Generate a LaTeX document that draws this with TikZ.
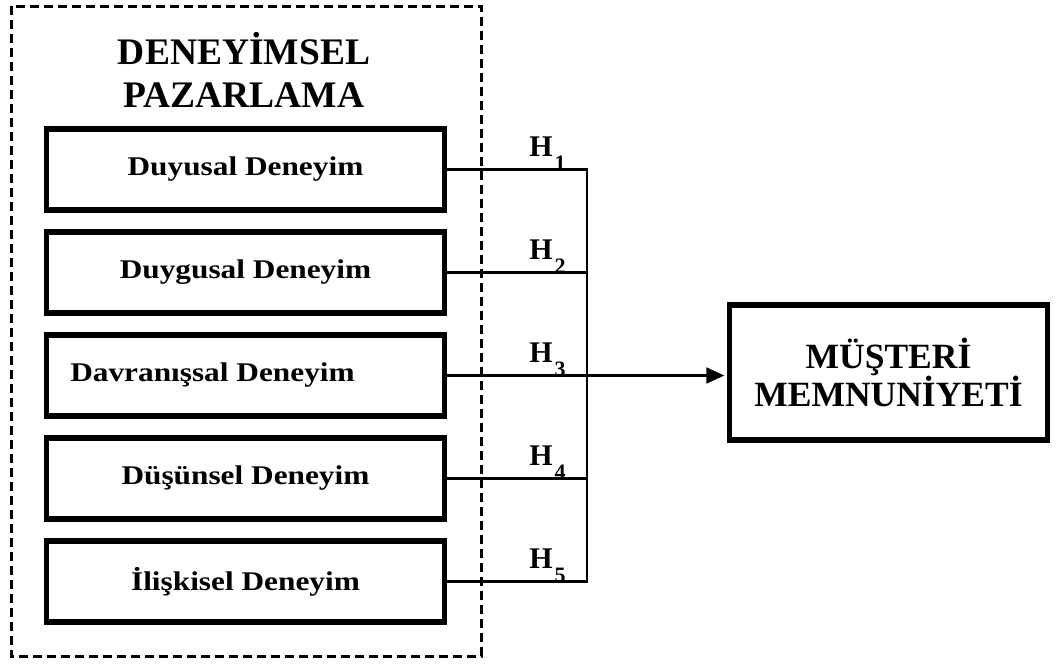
\documentclass[tikz,border=0pt]{standalone}
\usepackage{fontspec}
\setmainfont{Liberation Serif}
\newfontfamily\widefont[FakeStretch=1.16]{Liberation Serif}
\usetikzlibrary{positioning,arrows.meta}

\begin{document}
\begin{tikzpicture}[x=1pt,y=-1pt,
    dimbox/.style={draw,line width=5.5pt,minimum width=398pt,minimum height=81pt,
      font=\widefont\bfseries\fontsize{27}{30}\selectfont},
    link/.style={line width=2.2pt,line cap=rect},
    hyp/.style={anchor=south west,inner sep=0pt,pos=0.58,yshift=-2pt,
      font=\bfseries\fontsize{30}{30}\selectfont},
    node distance=16.5pt]
  \useasboundingbox (0,0) rectangle (1057,664);

  % outer frame
  \draw[line width=3pt,dash pattern=on 9pt off 5pt] (11,6) rectangle (481,656);
  \node[align=center,font=\bfseries\fontsize{37.5}{43}\selectfont] (title) at (244,70) {DENEYİMSEL\\PAZARLAMA};

  \node[dimbox] (b1) at (245.5,169.5) {Duyusal Deneyim};
  \node[dimbox] (b2)[below=of b1] {Duygusal Deneyim};
  \node[dimbox] (b3)[below=of b2] {\hspace*{-66pt}Davranışsal Deneyim};
  \node[dimbox] (b4)[below=of b3] {Düşünsel Deneyim};
  \node[dimbox] (b5)[below=of b4] {İlişkisel Deneyim};

  \node[draw,line width=5.5pt,minimum width=318pt,minimum height=135pt,align=center,
    font=\bfseries\fontsize{35.5}{36}\selectfont] (mm) at (888.5,372.5) {MÜŞTERİ\\MEMNUNİYETİ};

  \coordinate (vx) at (587,0);
  \foreach \i in {1,...,5}
    \coordinate (j\i) at (b\i.east -| vx);

  \foreach \i in {1,...,5}
    \draw[link] (b\i.east) -- node[hyp] {H\kern2pt\raisebox{-14pt}{\fontsize{22}{22}\selectfont\i}} (j\i);
  \draw[link] (j1) -- (j5);
  \draw[link,-{Triangle[length=18pt,width=16pt]},shorten >=2.5pt] (j3) -- (j3 -| mm.west);
\end{tikzpicture}
\end{document}
